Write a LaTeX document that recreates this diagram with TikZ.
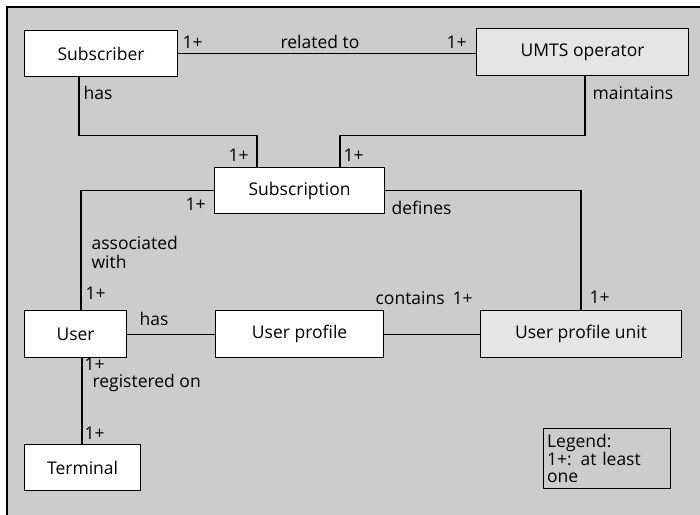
\documentclass[tikz,border=0pt]{standalone}
\usepackage{fontspec}
\setmainfont{Open Sans}
\usetikzlibrary{positioning}

\begin{document}
\begin{tikzpicture}[x=1pt,y=-1pt,line width=1.2pt,
  font=\fontsize{17.5}{18}\selectfont,
  entity/.style={draw,fill=white,anchor=north west,inner sep=0pt},
  party/.style={entity,fill=black!10},
  tag/.style={inner sep=0pt,anchor=west}]
  % Page and grey ground
  \useasboundingbox (0,0) rectangle (700,514);
  \fill[black!20] (7,7) rectangle (710,520);
  \draw (7,520) -- (7,7) -- (710,7);
  % Place the entities
  \node[entity,minimum width=153pt,minimum height=46pt] (subscriber) at (24,30) {Subscriber};
  \node[party,minimum width=212pt,minimum height=47pt] (operator) at (476,28) {UMTS operator};
  \node[entity,minimum width=170pt,minimum height=46pt] (subscription) at (214,167) {Subscription};
  \node[entity,minimum width=102pt,minimum height=47pt] (user) at (24,310) {User};
  \node[entity,minimum width=168pt,minimum height=47pt] (profile) at (215,310) {User profile};
  \node[party,minimum width=201pt,minimum height=47pt] (unit) at (480,310) {User profile unit};
  \node[entity,minimum width=116pt,minimum height=46pt] (terminal) at (24,444) {Terminal};
  \node[draw,anchor=north west,minimum width=127pt,minimum height=60pt,
    text width=120pt,inner sep=3pt,align=left,font=\fontsize{17.5}{17}\selectfont]
    (legend) at (543,428) {Legend:\\1+: at least\\one};
  % Connect the entities
  \draw (subscriber.east) -- (subscriber.east -| operator.west);
  \draw ([xshift=55pt]subscriber.south west) -- ++(0,58) -| ([xshift=43pt]subscription.north west);
  \draw ([xshift=109pt]operator.south west) -- ++(0,59) -| ([xshift=126pt]subscription.north west);
  \draw (subscription.west) -| ([xshift=57pt]user.north west);
  \draw (subscription.east) -| ([xshift=101pt]unit.north west);
  \draw (user.east) -- (profile.west);
  \draw (profile.east) -- (unit.west);
  \draw ([xshift=58pt]user.south west) -- ([xshift=58pt]terminal.north west);
  % Roles and counts
  \node[tag] (relA) at (182,42) {1+};
  \node[tag] (rel) at (280,42) {related to};
  \node[tag] (relB) at (446,42) {1+};
  \node[tag] (has) at (83,93) {has};
  \node[tag] (maintains) at (592,93) {maintains};
  \node[tag] (hasB) at (228,155) {1+};
  \node[tag] (mntB) at (343,155) {1+};
  \node[tag] (assA) at (185,204) {1+};
  \node[tag] (defines) at (391,208) {defines};
  \node[tag,align=left,font=\fontsize{17.5}{19}\selectfont] (assoc) at (91,252) {associated\\with};
  \node[tag] (assB) at (85,293) {1+};
  \node[tag] (hasU) at (139,319) {has};
  \node[tag] (contains) at (375,298) {contains};
  \node[tag] (cntB) at (452,298) {1+};
  \node[tag] (defB) at (589,297) {1+};
  \node[tag] (regA) at (84,364) {1+};
  \node[tag] (reg) at (92,383) {registered on};
  \node[tag] (regB) at (84,433) {1+};
\end{tikzpicture}
\end{document}
